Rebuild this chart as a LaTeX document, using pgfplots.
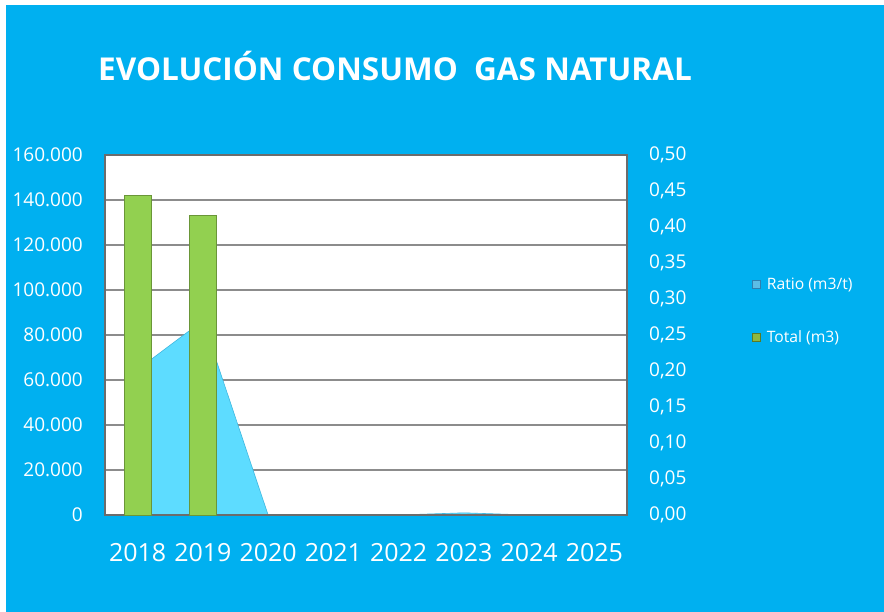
\documentclass[border=0pt]{standalone}
\usepackage{fontspec}
\setmainfont{Open Sans}
\usepackage{pgfplots}
\pgfplotsset{compat=1.18}
\definecolor{bg}{HTML}{00B0F0}
\definecolor{areablue}{HTML}{5DDCFF}
\definecolor{areaedge}{HTML}{3FB8E0}
\definecolor{bargreen}{HTML}{92D050}
\definecolor{bardark}{HTML}{6A9638}
\definecolor{gridgray}{HTML}{8C8C8C}
\definecolor{legblue}{HTML}{5BBDE6}
\definecolor{legblueedge}{HTML}{2F7FAF}
\definecolor{leggreen}{HTML}{8DB83F}
\definecolor{leggreenedge}{HTML}{5A7A25}
\pgfplotsset{
  base/.style={scale only axis, width=522pt, height=360pt, at={(105pt,97pt)}, anchor=south west,
    xmin=-0.5, xmax=7.5, major tick length=0pt, clip=false},
}
\begin{document}
\begin{tikzpicture}[x=1pt,y=1pt]
\useasboundingbox (0,0) rectangle (884,612);
\fill[white] (0,0) rectangle (884,612);
\fill[bg] (6,0) rectangle (884,607);
\node[text=white, font=\fontsize{31.5}{38}\selectfont\bfseries] at (395,546) {EVOLUCIÓN CONSUMO\ \ GAS NATURAL};
% axis 1: background, grid, left ticks, x labels
\begin{axis}[base,
  axis background/.style={fill=white},
  axis line style={draw=none},
  ymin=0, ymax=160000,
  ytick={0,20000,40000,60000,80000,100000,120000,140000,160000},
  ymajorgrids, grid style={gridgray, line width=1.2pt},
  scaled y ticks=false,
  /pgf/number format/fixed,
  /pgf/number format/precision=0,
  /pgf/number format/1000 sep={.},
  /pgf/number format/assume math mode=true,
  xtick={0,1,2,3,4,5,6,7},
  xticklabels={2018,2019,2020,2021,2022,2023,2024,2025},
  tick label style={text=white},
  yticklabel style={font=\fontsize{19}{22}\selectfont, inner sep=0pt, xshift=-22pt},
  xticklabel style={font=\fontsize{25}{30}\selectfont, inner sep=0pt, yshift=-28pt},
]
\end{axis}
% axis 2: right axis, ratio area
\begin{axis}[base,
  axis y line*=right, axis x line=none,
  axis line style={draw=none},
  ymin=0, ymax=0.5,
  ytick={0,0.05,0.1,0.15,0.2,0.25,0.3,0.35,0.4,0.45,0.5},
  /pgf/number format/fixed,
  /pgf/number format/fixed zerofill,
  /pgf/number format/precision=2,
  /pgf/number format/use comma,
  /pgf/number format/assume math mode=true,
  yticklabel style={text=white, font=\fontsize{19}{22}\selectfont, inner sep=0pt, xshift=22pt},
]
\addplot[fill=areablue, draw=areaedge, line width=0.6pt] coordinates {
  (0,0.202) (1,0.270) (2,0) (3,0) (4,0) (5,0.003) (6,0) (7,0)} \closedcycle;
\end{axis}
% axis 3: bars, frame, legend
\begin{axis}[base,
  ymin=0, ymax=160000,
  axis line style={draw=gray!85!black, line width=2pt},
  xtick=\empty, ytick=\empty,
  legend style={at={(1.2395,0.5667)}, anchor=west, draw=none, fill=none, text=white,
    font=\fontsize{15.7}{19}\selectfont, row sep=36pt, inner sep=0pt, nodes={inner sep=2pt}},
  legend cell align=left,
]
\addlegendimage{legend image code/.code={\fill[legblue,draw=legblueedge,line width=0.6pt] (0pt,-4pt) rectangle (8pt,4pt);}}
\addlegendentry{\hspace{4pt}Ratio (m3/t)}
\addlegendimage{legend image code/.code={\fill[leggreen,draw=leggreenedge,line width=0.6pt] (0pt,-4pt) rectangle (8pt,4pt);}}
\addlegendentry{\hspace{4pt}Total (m3)}
\addplot[ybar, bar width=26.7pt, fill=bargreen, draw=bardark, line width=0.8pt, forget plot] coordinates {(0,142000) (1,133000)};
\end{axis}
\end{tikzpicture}
\end{document}
